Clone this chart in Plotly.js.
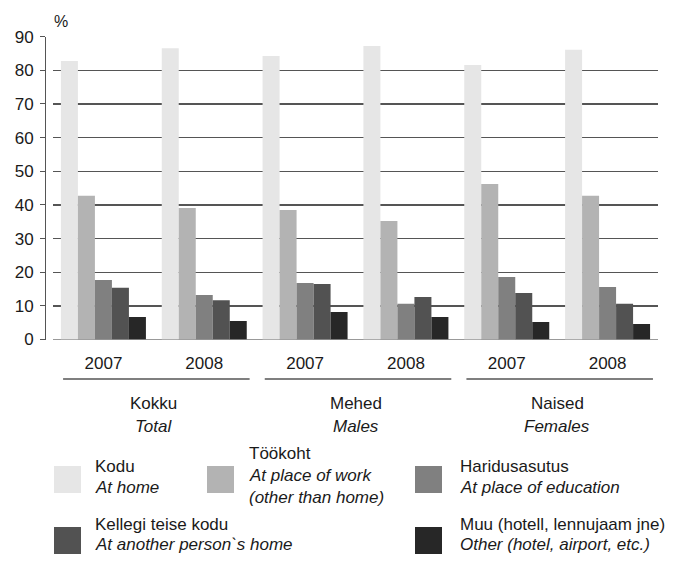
<!DOCTYPE html>
<html>
<head>
<meta charset="utf-8">
<script src="https://cdn.plot.ly/plotly-3.0.1.min.js"></script>
<style>html,body{margin:0;padding:0;background:#fff;}#chart{width:682px;height:561px;}</style>
</head>
<body>
<div id="chart"></div>
<script>
// ---- data ----
var years = ["2007", "2008", "2007", "2008", "2007", "2008"];
var groupsEt = ["Kokku", "Mehed", "Naised"];
var groupsEn = ["Total", "Males", "Females"];
var seriesEt = ["Kodu", "Töökoht", "Haridusasutus", "Kellegi teise kodu", "Muu (hotell, lennujaam jne)"];
var seriesEn = ["At home", "At place of work<br>(other than home)", "At place of education", "At another person`s home", "Other (hotel, airport, etc.)"];
var kodu      = [82.8, 86.6, 84.3, 87.2, 81.6, 86.1];
var tookoht   = [42.7, 39.1, 38.5, 35.2, 46.2, 42.7];
var haridus   = [17.7, 13.2, 16.8, 10.6, 18.6, 15.6];
var teiseKodu = [15.4, 11.7, 16.5, 12.6, 13.8, 10.6];
var muu       = [6.7, 5.5, 8.2, 6.7, 5.2, 4.6];
var yTicks = [0, 10, 20, 30, 40, 50, 60, 70, 80, 90];

// ---- style ----
var W = 682, H = 561;
var colors = ["#e6e6e6", "#b3b3b3", "#808080", "#525252", "#272727"];
var FONT = "Liberation Sans, Arial, Helvetica, sans-serif";
var TXT = "#1a1a1a";
var FS = 17;
function px(x) { return x / W; }
function py(y) { return 1 - y / H; }

var values = [kodu, tookoht, haridus, teiseKodu, muu];
var xIdx = years.map(function (_, i) { return i; });

var traces = values.map(function (v, s) {
  return {
    type: "bar",
    x: xIdx,
    y: v,
    name: seriesEt[s],
    marker: { color: colors[s], line: { width: 0 } },
    hoverinfo: "skip"
  };
});

var shapes = [];
var annotations = [];

// % label
annotations.push({ xref: "paper", yref: "paper", x: px(61), y: py(21), text: "%", showarrow: false,
  xanchor: "center", yanchor: "middle", font: { family: FONT, size: 16, color: TXT } });

// group underlines and labels
groupsEt.forEach(function (g, k) {
  shapes.push({ type: "line", xref: "x", yref: "paper", x0: 2 * k - 0.4, x1: 2 * k + 1.45,
    y0: py(379), y1: py(379), line: { color: "#555", width: 1.5 } });
  annotations.push({ xref: "x", yref: "paper", x: 2 * k + 0.5, y: py(403), text: g, showarrow: false,
    xanchor: "center", yanchor: "middle", font: { family: FONT, size: FS, color: TXT } });
  annotations.push({ xref: "x", yref: "paper", x: 2 * k + 0.5, y: py(426), text: "<i>" + groupsEn[k] + "</i>", showarrow: false,
    xanchor: "center", yanchor: "middle", font: { family: FONT, size: FS, color: TXT } });
});

// custom legend
var legPos = [
  { sx: 54, tx: 93, sy: 466, lines: [466, 487] },
  { sx: 207, tx: 247, sy: 466, lines: [453, 475, 497] },
  { sx: 415, tx: 458, sy: 466, lines: [466, 487] },
  { sx: 54, tx: 93, sy: 527, lines: [524, 544] },
  { sx: 415, tx: 458, sy: 527, lines: [524, 544] }
];
seriesEt.forEach(function (name, s) {
  var p = legPos[s];
  shapes.push({ type: "rect", xref: "paper", yref: "paper", x0: px(p.sx), x1: px(p.sx + 27),
    y0: py(p.sy + 27), y1: py(p.sy), fillcolor: colors[s], line: { width: 0 } });
  var txt = [name].concat(seriesEn[s].split("<br>").map(function (t) { return "<i>" + t + "</i>"; }));
  txt.forEach(function (t, j) {
    annotations.push({ xref: "paper", yref: "paper", x: px(p.tx), y: py(p.lines[j]), text: t, showarrow: false,
      xanchor: "left", yanchor: "middle", font: { family: FONT, size: FS, color: TXT } });
  });
});

var layout = {
  width: W, height: H,
  margin: { l: 0, r: 0, t: 0, b: 0, pad: 0 },
  paper_bgcolor: "#fff", plot_bgcolor: "#fff",
  showlegend: false,
  barmode: "group",
  bargap: 0.157,
  bargroupgap: 0,
  font: { family: FONT, size: FS, color: TXT },
  xaxis: {
    domain: [px(53), px(658)],
    range: [-0.5, 5.5],
    tickmode: "array",
    tickvals: xIdx,
    ticktext: years,
    ticks: "",
    showgrid: false,
    zeroline: false,
    showline: false,
    ticklabelstandoff: 11,
    tickfont: { family: FONT, size: FS, color: TXT },
    fixedrange: true
  },
  yaxis: {
    domain: [py(339.5), py(36.7)],
    range: [0, 90],
    anchor: "free",
    position: px(45),
    tickmode: "array",
    tickvals: yTicks,
    ticktext: yTicks.map(String),
    ticks: "outside",
    ticklen: 5,
    tickcolor: "#555",
    tickwidth: 1,
    showline: true,
    linecolor: "#555",
    linewidth: 1,
    showgrid: true,
    gridcolor: "#555",
    gridwidth: 1.3,
    zeroline: true,
    zerolinecolor: "#999",
    zerolinewidth: 1.5,
    ticklabelstandoff: 3,
    tickfont: { family: FONT, size: FS, color: TXT },
    fixedrange: true
  },
  shapes: shapes,
  annotations: annotations
};

Plotly.newPlot("chart", traces, layout, { staticPlot: true, displayModeBar: false });
</script>
</body>
</html>
